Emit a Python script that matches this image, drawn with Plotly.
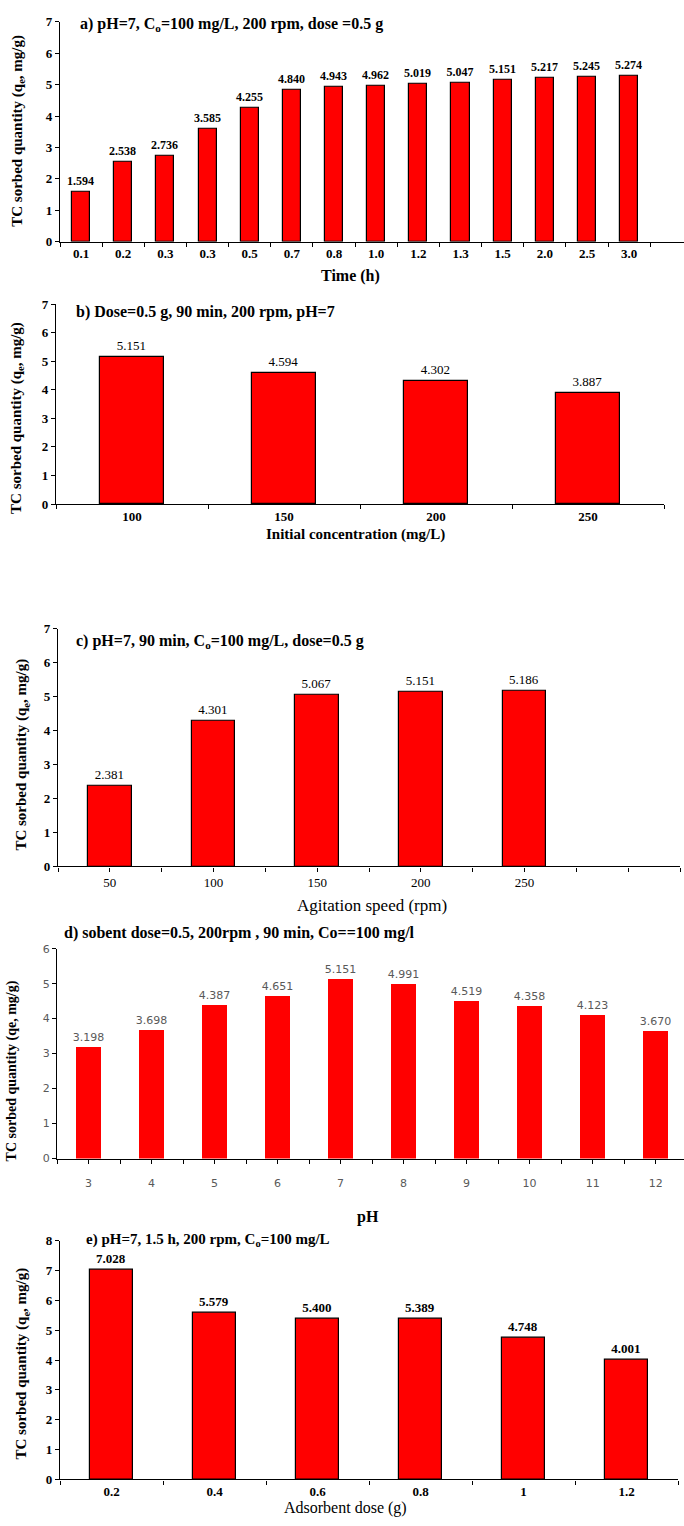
import plotly.graph_objects as go

W, H = 684, 1526

# a) contact time
time_labels = ["0.1", "0.2", "0.3", "0.3", "0.5", "0.7", "0.8", "1.0", "1.2", "1.3", "1.5", "2.0", "2.5", "3.0"]
time_q = [1.594, 2.538, 2.736, 3.585, 4.255, 4.840, 4.943, 4.962, 5.019, 5.047, 5.151, 5.217, 5.245, 5.274]

# b) initial concentration
conc_labels = ["100", "150", "200", "250"]
conc_q = [5.151, 4.594, 4.302, 3.887]

# c) agitation speed
speed_rpm = [50, 100, 150, 200, 250]
speed_q = [2.381, 4.301, 5.067, 5.151, 5.186]

# d) pH
ph_values = [3, 4, 5, 6, 7, 8, 9, 10, 11, 12]
ph_q = [3.198, 3.698, 4.387, 4.651, 5.151, 4.991, 4.519, 4.358, 4.123, 3.670]

# e) adsorbent dose
dose_labels = ["0.2", "0.4", "0.6", "0.8", "1", "1.2"]
dose_q = [7.028, 5.579, 5.400, 5.389, 4.748, 4.001]

SERIF = "Liberation Serif"
SANS = "DejaVu Sans"
RED = "#ff0000"
GREY = "#595959"


def px_x(x):
    return x / W


def px_y(y):
    return 1 - y / H


def ydom(top, bottom):
    return [px_y(bottom), px_y(top)]


fig = go.Figure()

outline = dict(color="black", width=1.2)


def label_font(family=SERIF, size=12, color="black", weight="normal"):
    return dict(family=family, size=size, color=color, weight=weight)


common = dict(texttemplate="%{y:.3f}", textposition="outside",
              constraintext="none", cliponaxis=False)

# panel a
xa = list(range(len(time_q)))
fig.add_bar(x=xa, y=time_q, xaxis="x", yaxis="y", width=0.43,
            marker=dict(color=RED, line=outline),
            textfont=label_font(weight="bold"), **common)

# panel b
xb = list(range(len(conc_q)))
fig.add_bar(x=xb, y=conc_q, xaxis="x2", yaxis="y2", width=0.42,
            marker=dict(color=RED, line=outline),
            textfont=label_font(size=13), **common)

# panel c
fig.add_bar(x=speed_rpm, y=speed_q, xaxis="x3", yaxis="y3", width=21,
            marker=dict(color=RED, line=outline),
            textfont=label_font(size=13), **common)

# panel d
fig.add_bar(x=ph_values, y=ph_q, xaxis="x4", yaxis="y4", width=0.39,
            marker=dict(color=RED, line=dict(width=0)),
            textfont=label_font(family=SANS, size=11, color=GREY), **common)

# panel e
xe = list(range(len(dose_q)))
fig.add_bar(x=xe, y=dose_q, xaxis="x5", yaxis="y5", width=0.41,
            marker=dict(color=RED, line=outline),
            textfont=label_font(size=13, weight="bold"), **common)

tick_bold = dict(family=SERIF, size=13, color="black", weight="bold")
tick_plain = dict(family=SERIF, size=13, color="black")
tick_sans = dict(family=SANS, size=11, color=GREY)

base_axis = dict(showline=True, linecolor="black", linewidth=1.3, showgrid=False,
                 zeroline=False, ticks="outside", ticklen=4, tickcolor="black",
                 tickwidth=1.2)


def xaxis_cat(n, dom, labels, anchor, font, xmax=None):
    return dict(base_axis, domain=dom, anchor=anchor,
                range=[-0.5, xmax if xmax is not None else n - 0.5],
                tickmode="array", tickvals=list(range(n)), ticktext=labels, ticks="",
                tickfont=font,
                minor=dict(tickmode="array", tickvals=[i - 0.5 for i in range(n + 1)],
                           ticks="outside", ticklen=4, tickcolor="black", tickwidth=1.2))


def yaxis_lin(top, dom, anchor, font):
    return dict(base_axis, domain=dom, anchor=anchor, range=[0, top], dtick=1,
                tickfont=font)


layout = dict(
    width=W, height=H, margin=dict(l=0, r=0, t=0, b=0),
    paper_bgcolor="white", plot_bgcolor="white", showlegend=False,
    bargap=0,
)

# geometry of each panel (pixels)
layout["xaxis"] = xaxis_cat(len(time_q), [px_x(60), 1.0], time_labels, "y", tick_bold, xmax=14.3)
layout["yaxis"] = yaxis_lin(7, ydom(15, 237), "x", tick_bold)

layout["xaxis2"] = xaxis_cat(len(conc_q), [px_x(56), px_x(664)], conc_labels, "y2", tick_bold)
layout["yaxis2"] = yaxis_lin(7, ydom(300, 502), "x2", tick_bold)

layout["xaxis3"] = dict(base_axis, domain=[px_x(58), px_x(680)], anchor="y3",
                        range=[25, 325], tickmode="array", tickvals=speed_rpm,
                        ticktext=[str(v) for v in speed_rpm], tickfont=tick_plain,
                        minor=dict(tick0=25, dtick=25, ticks="outside", ticklen=4,
                                   tickcolor="black", tickwidth=1.2))
layout["yaxis3"] = yaxis_lin(7, ydom(628, 868), "x3", tick_bold)

layout["xaxis4"] = dict(base_axis, domain=[px_x(57), 1.0], anchor="y4",
                        range=[2.5, 12.45], tickmode="array", tickvals=ph_values,
                        ticktext=[str(v) for v in ph_values], tickfont=tick_sans,
                        ticklabelstandoff=10,
                        minor=dict(tick0=2.5, dtick=1, ticks="outside", ticklen=4,
                                   tickcolor="black", tickwidth=1.2))
layout["yaxis4"] = yaxis_lin(6, ydom(951, 1163), "x4", tick_sans)

layout["xaxis5"] = xaxis_cat(len(dose_q), [px_x(60), px_x(678)], dose_labels, "y5", tick_bold)
layout["yaxis5"] = yaxis_lin(8, ydom(1246, 1487), "x5", tick_bold)

fig.update_layout(**layout)


def note(text, x, y, size=13, angle=0, anchor="left", family=SERIF):
    fig.add_annotation(text=text, x=px_x(x), y=px_y(y), xref="paper", yref="paper",
                       showarrow=False, textangle=angle, xanchor=anchor, yanchor="middle",
                       font=dict(family=family, size=size, color="black"))


# panel headings
note("<b>a) pH=7, C<sub>o</sub>=100 mg/L, 200 rpm, dose =0.5 g</b>", 78, 18, size=16)
note("<b>b) Dose=0.5 g, 90 min, 200 rpm, pH=7</b>", 74, 308, size=16)
note("<b>c) pH=7, 90 min, C<sub>o</sub>=100 mg/L, dose=0.5 g</b>", 74, 641, size=16)
note("<b>d) sobent dose=0.5, 200rpm , 90 min, Co==100 mg/l</b>", 62, 935, size=16)
note("<b>e) pH=7, 1.5 h, 200 rpm, C<sub>o</sub>=100 mg/L</b>", 84, 1245, size=15)

# x-axis titles
note("<b>Time (h)</b>", 350, 272, size=16, anchor="center")
note("<b>Initial concentration (mg/L)</b>", 355, 533, size=15, anchor="center")
note("Agitation speed (rpm)", 372, 907, size=17, anchor="center")
note("<b>pH</b>", 368, 1222, size=16, anchor="center")
note("Adsorbent dose (g)", 345, 1516, size=16, anchor="center")

# y-axis titles
ytitle = "<b>TC sorbed quantity (q<sub>e</sub>, mg/g)</b>"
note(ytitle, 18, 125, size=15, angle=-90, anchor="center")
note(ytitle, 17, 415, size=15, angle=-90, anchor="center")
note(ytitle, 22, 755, size=15, angle=-90, anchor="center")
note("<b>TC sorbed quantity (qe, mg/g)</b>", 12, 1075, size=14, angle=-90, anchor="center")
note(ytitle, 22, 1370, size=15, angle=-90, anchor="center")

fig.write_html("out.html")
